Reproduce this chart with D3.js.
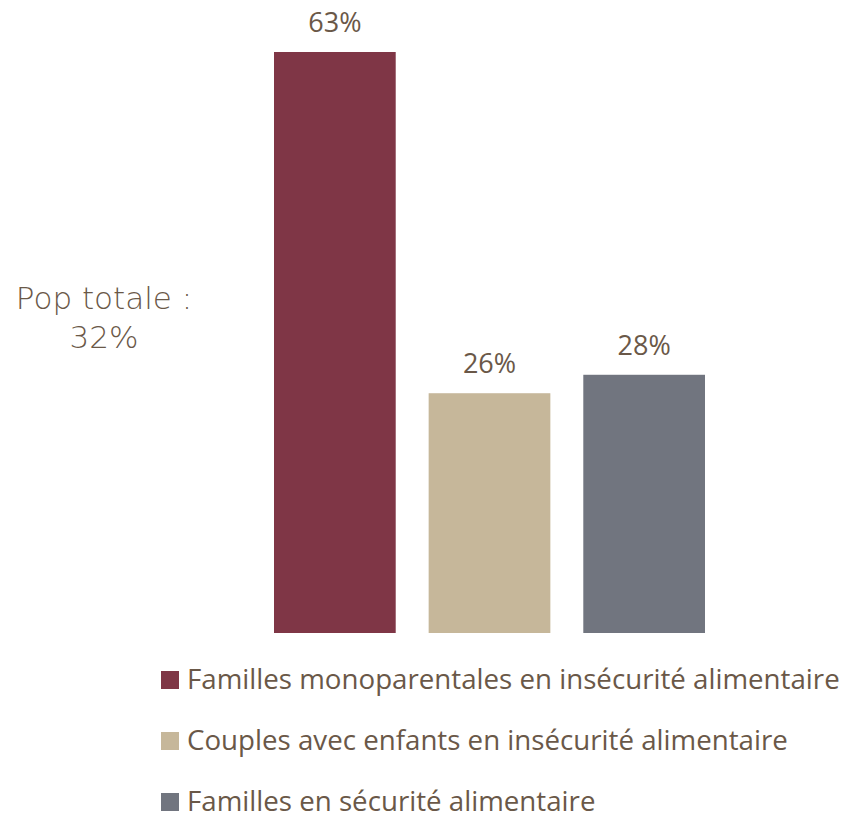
<!DOCTYPE html>
<html>
<head>
<meta charset="utf-8">
<script src="https://cdn.jsdelivr.net/npm/d3@7"></script>
<style>
  body { margin: 0; background: #fff; }
  svg { display: block; }
</style>
</head>
<body>
<div id="chart"></div>
<script>
// chart data
const categories = [
  "Familles monoparentales en insécurité alimentaire",
  "Couples avec enfants en insécurité alimentaire",
  "Familles en sécurité alimentaire"
];
const values = [63, 26, 28];
const colors = ["#7f3646", "#c6b79a", "#71757f"];
const totalLabel = ["Pop totale :", "32%"];

const width = 846, height = 818;
const textColor = "#6a5848";

const svg = d3.select("#chart").append("svg")
  .attr("width", width)
  .attr("height", height);

// x: band scale for the three bars
const x = d3.scaleBand()
  .domain(categories)
  .range([274, 705])
  .paddingInner(0.213)
  .paddingOuter(0);

// y: percent scale, baseline at 633
const y = d3.scaleLinear()
  .domain([0, 63])
  .range([633, 52]);

svg.selectAll("rect.bar")
  .data(values)
  .enter().append("rect")
  .attr("class", "bar")
  .attr("x", (d, i) => x(categories[i]))
  .attr("y", d => y(d))
  .attr("width", x.bandwidth())
  .attr("height", d => y(0) - y(d))
  .attr("fill", (d, i) => colors[i]);

// value labels above bars
svg.selectAll("text.val")
  .data(values)
  .enter().append("text")
  .attr("class", "val")
  .attr("x", (d, i) => x(categories[i]) + x.bandwidth() / 2)
  .attr("y", d => y(d) - 20)
  .attr("text-anchor", "middle")
  .attr("font-family", "Open Sans")
  .attr("font-size", 27)
  .attr("fill", textColor)
  .text(d => d + "%");

// total population note
svg.append("text")
  .attr("text-anchor", "middle")
  .attr("font-family", "DejaVu Sans")
  .attr("font-weight", 200)
  .attr("font-size", 31)
  .attr("fill", textColor)
  .selectAll("tspan")
  .data(totalLabel)
  .enter().append("tspan")
  .attr("x", 104)
  .attr("y", (d, i) => 309 + i * 39)
  .text(d => d);

// legend
const legend = svg.append("g").attr("transform", "translate(161,671)");
const rows = legend.selectAll("g")
  .data(categories)
  .enter().append("g")
  .attr("transform", (d, i) => `translate(0,${i * 61})`);

rows.append("rect")
  .attr("width", 18)
  .attr("height", 18)
  .attr("fill", (d, i) => colors[i]);

rows.append("text")
  .attr("x", 26)
  .attr("y", 18)
  .attr("font-family", "Open Sans")
  .attr("font-size", 27.7)
  .attr("fill", textColor)
  .text(d => d);
</script>
</body>
</html>
